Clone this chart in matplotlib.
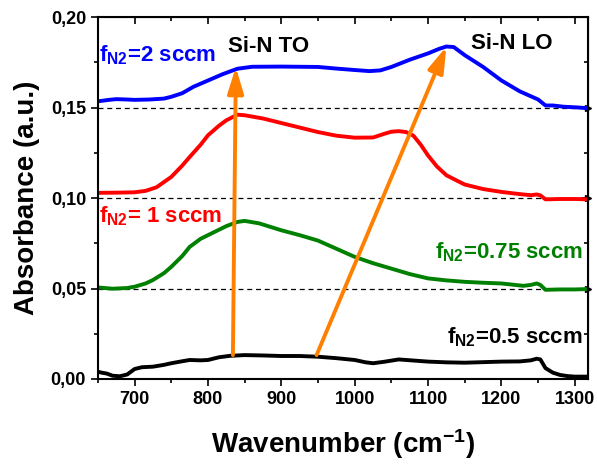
import numpy as np
import matplotlib.pyplot as plt
from matplotlib.ticker import MultipleLocator, FuncFormatter

plt.rcParams['font.family'] = ['Liberation Sans', 'DejaVu Sans']
plt.rcParams['font.weight'] = 'bold'
plt.rcParams['mathtext.fontset'] = 'custom'
plt.rcParams['mathtext.rm'] = 'Liberation Sans:bold'
plt.rcParams['mathtext.bf'] = 'Liberation Sans:bold'
plt.rcParams['mathtext.it'] = 'Liberation Sans:bold'

# f_N2 = 0.5 sccm (black)
wn_k = [650, 655, 662, 670, 680, 690, 700, 710, 725, 740, 750, 765, 775, 790, 800, 815, 830, 850,
        875, 900, 925, 950, 975, 1000, 1015, 1025, 1040, 1060, 1080, 1100, 1125, 1150, 1175, 1200,
        1225, 1240, 1248, 1253, 1260, 1270, 1280, 1290, 1300, 1318]
ab_k = [0.004, 0.0035, 0.003, 0.0018, 0.0015, 0.0025, 0.0055, 0.0065, 0.0068, 0.0078, 0.0087, 0.0098,
        0.0105, 0.0103, 0.0105, 0.012, 0.0128, 0.0132, 0.013, 0.0127, 0.0127, 0.0123, 0.0115, 0.0105,
        0.0092, 0.0087, 0.0095, 0.0108, 0.0102, 0.0096, 0.0092, 0.009, 0.0093, 0.0096, 0.0097, 0.0103,
        0.0112, 0.0108, 0.006, 0.0035, 0.0022, 0.0016, 0.0013, 0.0013]

# f_N2 = 0.75 sccm (green)
wn_g = [650, 670, 690, 700, 715, 725, 740, 750, 765, 775, 790, 800, 815, 825, 840, 850, 870, 900,
        925, 950, 975, 1000, 1025, 1050, 1075, 1100, 1125, 1150, 1175, 1200, 1230, 1240, 1248, 1253,
        1260, 1280, 1300, 1318]
ab_g = [0.0506, 0.0499, 0.0503, 0.051, 0.0528, 0.0547, 0.0585, 0.062, 0.068, 0.073, 0.0775, 0.0795,
        0.0825, 0.0845, 0.0868, 0.0874, 0.086, 0.0822, 0.0795, 0.0765, 0.072, 0.0675, 0.064, 0.061,
        0.058, 0.0556, 0.0545, 0.0537, 0.0532, 0.0528, 0.0515, 0.052, 0.0528, 0.052, 0.0493, 0.0495,
        0.0495, 0.0497]

# f_N2 = 1 sccm (red)
wn_r = [650, 675, 700, 715, 730, 750, 765, 775, 790, 800, 815, 825, 840, 850, 875, 900, 925, 950,
        975, 1000, 1025, 1040, 1050, 1060, 1070, 1080, 1090, 1100, 1112, 1125, 1140, 1150, 1175, 1200,
        1225, 1240, 1248, 1253, 1260, 1280, 1300, 1318]
ab_r = [0.1029, 0.103, 0.1032, 0.104, 0.106, 0.1117, 0.118, 0.1227, 0.1295, 0.1347, 0.140, 0.143,
        0.1461, 0.1458, 0.144, 0.1415, 0.139, 0.1365, 0.1345, 0.1334, 0.1335, 0.1355, 0.1367, 0.137,
        0.1365, 0.1345, 0.1295, 0.1235, 0.1175, 0.1126, 0.1095, 0.1075, 0.105, 0.1034, 0.1022, 0.1016,
        0.102, 0.1015, 0.0993, 0.0995, 0.0995, 0.0993]

# f_N2 = 2 sccm (blue)
wn_b = [650, 665, 675, 690, 700, 720, 740, 750, 765, 780, 800, 820, 840, 860, 900, 950, 975, 1000,
        1020, 1035, 1050, 1075, 1100, 1115, 1125, 1135, 1150, 1175, 1200, 1225, 1250, 1260, 1270,
        1285, 1300, 1318]
ab_b = [0.1535, 0.1543, 0.1547, 0.1545, 0.1543, 0.1545, 0.155, 0.156, 0.158, 0.1615, 0.165, 0.1685,
        0.1715, 0.1726, 0.1727, 0.1725, 0.1716, 0.1708, 0.1702, 0.1706, 0.1725, 0.1765, 0.180, 0.1825,
        0.1838, 0.1835, 0.179, 0.1725, 0.165, 0.159, 0.1545, 0.1512, 0.1512, 0.1505, 0.1502, 0.1497]

baselines = [0.05, 0.10, 0.15]

# arrows: (tail wavenumber, tail abs, head wavenumber, head abs)
arrow_to = (834, 0.0132, 838, 0.1724)
arrow_lo = (948, 0.0132, 1125, 0.1838)

fig = plt.figure(figsize=(5.97, 4.65), dpi=100)
ax = fig.add_axes([0.164, 0.185, 0.821, 0.778])

for y in baselines:
    ax.axhline(y, color='black', lw=0.9, ls=(0, (4, 3)), zorder=1)
    ax.plot([1318], [y], marker='>', ms=4, color='black', clip_on=False, zorder=1)

ax.plot(wn_k, ab_k, color='black', lw=2.8, zorder=2)
ax.plot(wn_g, ab_g, color='#008000', lw=2.8, zorder=2)
ax.plot(wn_r, ab_r, color='#ff0000', lw=2.8, zorder=2)
ax.plot(wn_b, ab_b, color='#0000ff', lw=2.8, zorder=2)

for x0, y0, x1, y1 in [arrow_to, arrow_lo]:
    ax.annotate('', xy=(x1, y1), xytext=(x0, y0),
                arrowprops=dict(arrowstyle='-|>,head_length=1.3,head_width=0.4',
                                color='#ff8000', lw=2.8, shrinkA=0, shrinkB=0, mutation_scale=12),
                zorder=3)

ax.text(883, 0.184, 'Si-N TO', fontsize=16, fontweight='bold', ha='center', va='center')
ax.text(1214, 0.1856, 'Si-N LO', fontsize=16, fontweight='bold', ha='center', va='center')
ax.text(652, 0.1755, r'f$_{\mathregular{N2}}$=2 sccm', color='#0000ff', fontsize=16,
        fontweight='bold', ha='left', va='baseline')
ax.text(652, 0.0865, r'f$_{\mathregular{N2}}$= 1 sccm', color='#ff0000', fontsize=16,
        fontweight='bold', ha='left', va='baseline')
ax.text(1311, 0.0666, r'f$_{\mathregular{N2}}$=0.75 sccm', color='#008000', fontsize=16,
        fontweight='bold', ha='right', va='baseline')
ax.text(1311, 0.0197, r'f$_{\mathregular{N2}}$=0.5 sccm', color='black', fontsize=16,
        fontweight='bold', ha='right', va='baseline')

ax.set_xlim(650, 1318)
ax.set_ylim(0, 0.20)
ax.xaxis.set_major_locator(MultipleLocator(100))
ax.xaxis.set_minor_locator(MultipleLocator(50))
ax.yaxis.set_major_locator(MultipleLocator(0.05))
ax.yaxis.set_minor_locator(MultipleLocator(0.025))
ax.yaxis.set_major_formatter(FuncFormatter(lambda v, p: f"{v:.2f}".replace('.', ',')))
ax.tick_params(which='major', direction='out', length=5, width=1.2, labelsize=13)
ax.tick_params(which='minor', direction='out', length=3, width=1.2)
for s in ax.spines.values():
    s.set_linewidth(1.5)

top = ax.secondary_xaxis('top')
top.xaxis.set_major_locator(MultipleLocator(100))
top.xaxis.set_minor_locator(MultipleLocator(50))
top.tick_params(which='both', direction='in', labeltop=False, width=1.2)
top.tick_params(which='major', length=5)
top.tick_params(which='minor', length=3)
right = ax.secondary_yaxis('right')
right.yaxis.set_major_locator(MultipleLocator(0.05))
right.yaxis.set_minor_locator(MultipleLocator(0.025))
right.tick_params(which='both', direction='in', labelright=False, width=1.2)
right.tick_params(which='major', length=5)
right.tick_params(which='minor', length=3)

for lab in ax.get_xticklabels() + ax.get_yticklabels():
    lab.set_fontweight('bold')

ax.set_xlabel(r'Wavenumber (cm$^{\mathregular{-1}}$)', fontsize=20, fontweight='bold', labelpad=14)
ax.set_ylabel('Absorbance (a.u.)', fontsize=20, fontweight='bold', labelpad=8)

fig.savefig('out.png', dpi=100)
